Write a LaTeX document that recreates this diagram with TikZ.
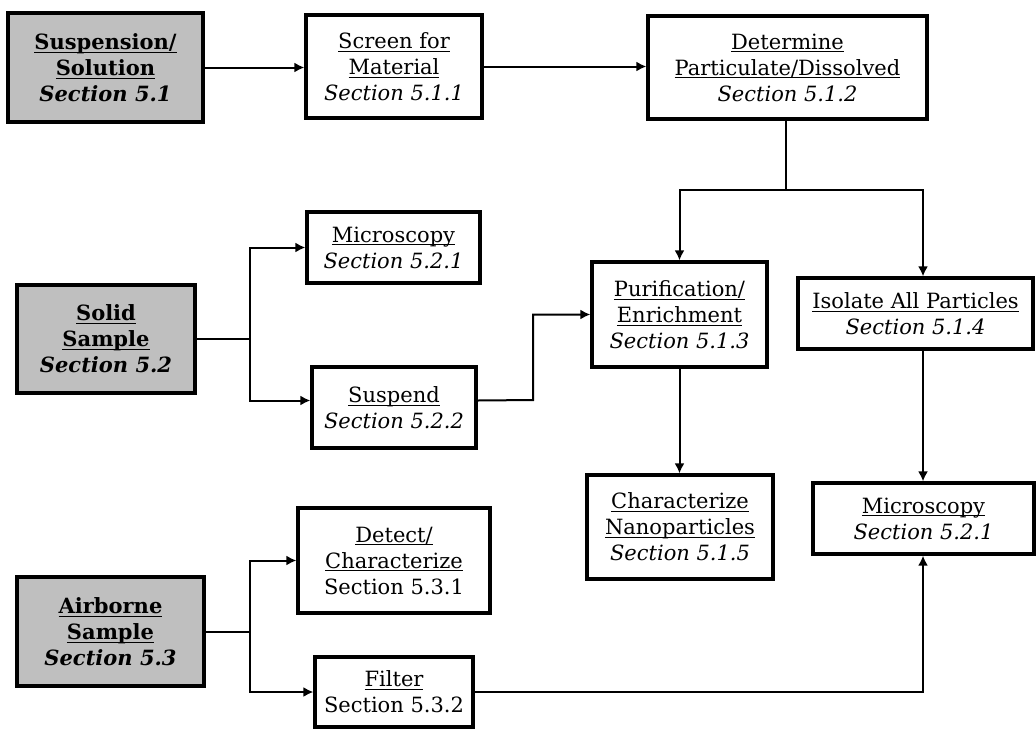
\documentclass[tikz,border=0pt]{standalone}
\usepackage{fontspec}
\setmainfont{DejaVu Serif}
\usetikzlibrary{arrows.meta,calc}

\definecolor{srcgray}{HTML}{BFBFBF}
% underline at the baseline, through descenders
\newcommand{\uln}[1]{\underline{\raisebox{0pt}[\height][0pt]{#1}}}

\tikzset{
  box/.style={draw, line width=1.6pt, align=center, inner sep=1pt,
    font=\fontsize{10.5pt}{13pt}\selectfont},
  srcbox/.style={box, fill=srcgray,
    font=\fontsize{10.5pt}{13pt}\selectfont\bfseries},
  link/.style={line width=1pt, -{Latex[length=5pt,width=5pt]}},
  line/.style={line width=1pt},
}

\begin{document}
\begin{tikzpicture}[x=0.5pt, y=-0.5pt]
  \useasboundingbox (0,0) rectangle (1036,728);

  % Sample types
  \node[srcbox, minimum width=97.5pt, minimum height=54.5pt] (suspension) at (105.5,67.5)
    {\uln{Suspension/}\\\uln{Solution}\\\textit{Section 5.1}};
  \node[srcbox, minimum width=89pt, minimum height=54pt] (solid) at (106,339)
    {\uln{Solid}\\\uln{Sample}\\\textit{Section 5.2}};
  \node[srcbox, minimum width=93.5pt, minimum height=54.5pt] (airborne) at (110.5,631.5)
    {\uln{Airborne}\\\uln{Sample}\\\textit{Section 5.3}};

  % Suspension branch
  \node[box, minimum width=88pt, minimum height=51.5pt] (screen) at (394,66.5)
    {\uln{Screen for}\\\uln{Material}\\\textit{Section 5.1.1}};
  \node[box, minimum width=139.5pt, minimum height=51.5pt] (determine) at (787.5,67.5)
    {\uln{Determine}\\\uln{Particulate/Dissolved}\\\textit{Section 5.1.2}};
  \node[box, minimum width=87.5pt, minimum height=52.5pt] (purify) at (679.5,314.5)
    {\uln{Purification/}\\\uln{Enrichment}\\\textit{Section 5.1.3}};
  \node[box, minimum width=117.5pt, minimum height=35.5pt] (isolate) at (915.5,313.5)
    {\uln{Isolate All Particles}\\\textit{Section 5.1.4}};
  \node[box, minimum width=93pt, minimum height=52pt] (nano) at (680,527)
    {\uln{Characterize}\\\uln{Nanoparticles}\\\textit{Section 5.1.5}};
  \node[box, minimum width=110.5pt, minimum height=35.5pt] (microB) at (923.5,518.5)
    {\uln{Microscopy}\\\textit{Section 5.2.1}};

  % Solid branch
  \node[box, minimum width=86.5pt, minimum height=35.5pt] (microA) at (393.5,247.5)
    {\uln{Microscopy}\\\textit{Section 5.2.1}};
  \node[box, minimum width=82pt, minimum height=40.5pt] (suspend) at (394,407.5)
    {\uln{Suspend}\\\textit{Section 5.2.2}};

  % Airborne branch
  \node[box, minimum width=96pt, minimum height=52.5pt] (detect) at (394,560.5)
    {\uln{Detect/}\\\uln{Characterize}\\Section 5.3.1};
  \node[box, minimum width=79pt, minimum height=35pt] (filter) at (394,692)
    {\uln{Filter}\\Section 5.3.2};

  % Junctions
  \coordinate (fork) at (786,190);
  \coordinate (drop) at (923,190);
  \coordinate (solidsplit) at (250,339);
  \coordinate (jog) at (533,400);
  \coordinate (airsplit) at (250,631.5);

  % Connectors
  \draw[link] (suspension.east) -- (suspension.east -| screen.west);
  \draw[link] (screen.east) -- (screen.east -| determine.west);
  \draw[line] (determine.south -| fork) -- (fork);
  \draw[link] (fork) -| (purify.north);
  \draw[link] (fork) -- (drop) -- (drop |- isolate.north);
  \draw[link] (drop |- isolate.south) -- (drop |- microB.north);
  \draw[link] (purify.south) -- (purify.south |- nano.north);

  \draw[line] (solid.east) -- (solidsplit);
  \draw[link] (solidsplit) |- (microA.west);
  \draw[link] (solidsplit) |- ($(suspend.west)+(0,-7)$);
  \draw[link] ($(suspend.east)+(0,-7)$) -- (jog) |- (purify.west);

  \draw[line] (airborne.east) -- (airsplit);
  \draw[link] (airsplit) |- (detect.west);
  \draw[link] (airsplit) |- (filter.west);
  \draw[link] (filter.east) -| (drop |- microB.south);
\end{tikzpicture}
\end{document}
